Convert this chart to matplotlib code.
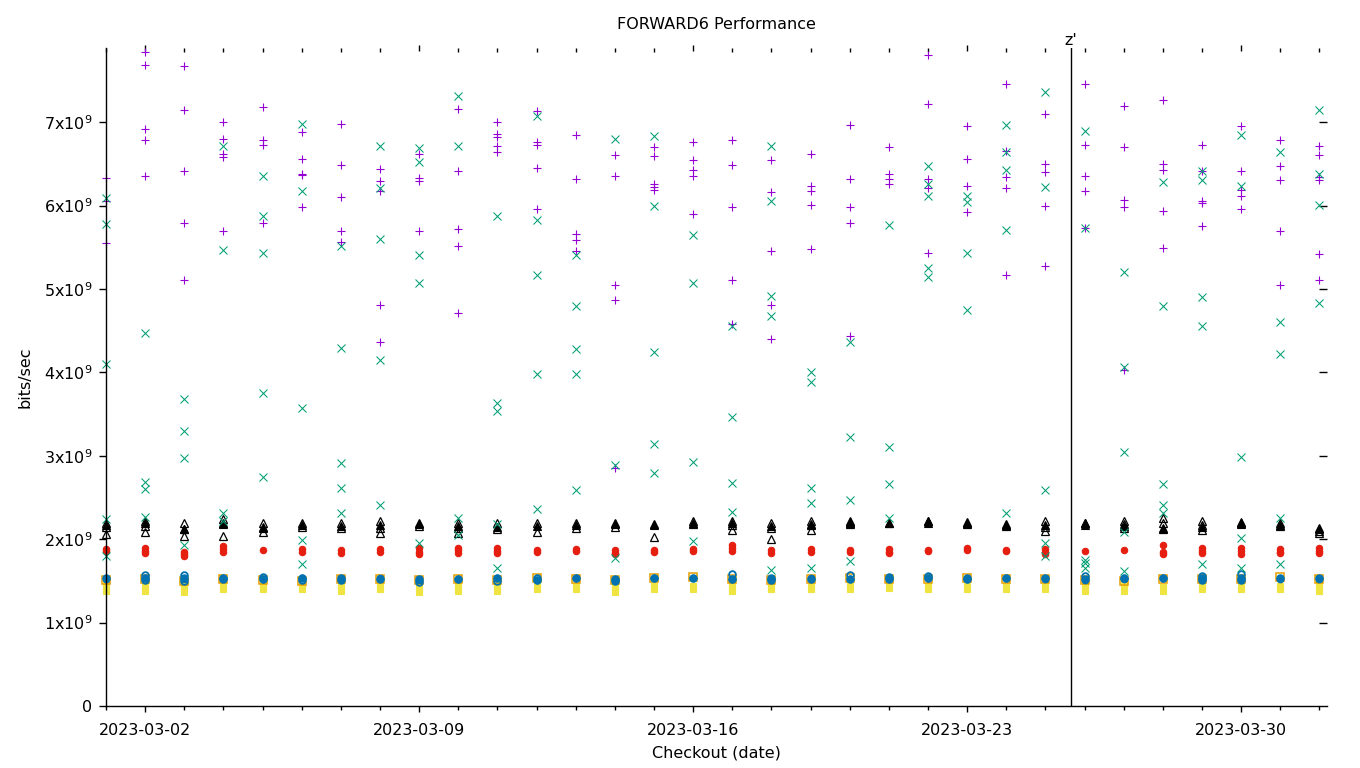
import numpy as np
import pandas as pd
import matplotlib
matplotlib.use("Agg")
import matplotlib.pyplot as plt
import matplotlib.dates as mdates
from matplotlib.ticker import FixedLocator, FuncFormatter

plt.rcParams["font.family"] = ["DejaVu Sans"]
FS = 11.5

# one column of points per checkout day
days = pd.date_range("2023-03-01", "2023-04-01", freq="D")
marker_date = pd.Timestamp("2023-03-25 15:40")
marker_label = "z'"

# values in units of 1e9 bits/sec, one list per day
purple_plus = [
    [6.33, 6.06, 5.55],
    [7.84, 7.69, 6.92, 6.79, 6.35],
    [7.68, 7.15, 6.42, 5.79, 5.11],
    [7.00, 6.80, 6.62, 6.58, 5.70],
    [7.18, 6.79, 6.73, 5.79],
    [6.88, 6.56, 6.38, 6.37, 5.98],
    [6.98, 6.49, 6.10, 5.69, 5.56],
    [6.44, 6.30, 6.17, 4.81, 4.36],
    [6.62, 6.33, 6.30, 5.69],
    [7.16, 6.41, 5.72, 5.51, 4.71],
    [7.00, 6.86, 6.82, 6.71, 6.64],
    [7.14, 6.76, 6.73, 6.45, 5.96],
    [6.85, 6.32, 5.66, 5.59, 5.46],
    [6.61, 6.35, 5.05, 4.87, 2.85],
    [6.70, 6.59, 6.26, 6.22, 6.19],
    [6.76, 6.55, 6.43, 6.35, 5.90],
    [6.79, 6.49, 5.98, 5.11, 4.58],
    [6.55, 6.16, 5.46, 4.81, 4.40],
    [6.62, 6.24, 6.18, 6.01, 5.48],
    [6.97, 6.32, 5.98, 5.79, 4.44],
    [6.70, 6.38, 6.32, 6.26],
    [7.81, 7.22, 6.32, 6.21, 5.43],
    [6.95, 6.56, 6.24, 5.92],
    [7.46, 6.66, 6.34, 6.21, 5.17],
    [7.10, 6.50, 6.40, 5.99, 5.28],
    [7.46, 6.73, 6.36, 6.17, 5.73],
    [7.19, 6.70, 6.07, 5.98, 4.03],
    [7.27, 6.50, 6.43, 5.93, 5.49],
    [6.73, 6.41, 6.05, 6.03, 5.75],
    [6.96, 6.42, 6.19, 6.12, 5.96],
    [6.79, 6.48, 6.31, 5.70, 5.05],
    [6.71, 6.61, 6.34, 6.31, 5.42, 5.11],
]

green_x = [
    [6.09, 5.78, 4.10, 2.24, 1.80],
    [4.47, 2.69, 2.60, 2.27],
    [3.68, 3.30, 2.97, 1.93],
    [6.72, 5.47, 2.32, 2.22],
    [6.35, 5.88, 5.43, 3.75, 2.74],
    [6.98, 6.18, 3.57, 1.99, 1.70],
    [5.51, 4.29, 2.91, 2.62, 2.32],
    [6.71, 6.21, 5.60, 4.15, 2.41],
    [6.69, 6.52, 5.41, 5.07, 1.95],
    [7.32, 6.72, 2.25, 2.05],
    [5.88, 3.63, 3.54, 2.18, 1.65],
    [7.07, 5.83, 5.17, 3.98, 2.36],
    [5.41, 4.80, 4.28, 3.98, 2.59],
    [6.80, 2.89, 1.78],
    [6.83, 5.99, 4.25, 3.14, 2.79],
    [5.65, 5.07, 2.92, 1.98],
    [4.56, 3.46, 2.67, 2.33],
    [6.71, 6.06, 4.92, 4.68, 1.63],
    [4.01, 3.89, 2.61, 2.43, 1.65],
    [4.37, 3.23, 2.47, 1.74],
    [5.77, 3.10, 2.66, 2.26],
    [6.47, 6.26, 6.11, 5.25, 5.14],
    [6.12, 6.04, 5.43, 4.75],
    [6.97, 6.64, 6.43, 5.71, 2.32],
    [7.36, 6.22, 2.59, 1.96, 1.80],
    [6.90, 5.73, 1.75, 1.71, 1.66],
    [5.21, 4.06, 3.05, 2.09, 1.62],
    [6.28, 4.80, 2.66, 2.41, 2.31],
    [6.42, 6.31, 4.91, 4.56, 1.70],
    [6.85, 6.23, 2.98, 2.02, 1.66],
    [6.64, 4.60, 4.22, 2.25, 1.70],
    [7.15, 6.38, 6.01, 4.83],
]

tri_open = [
    [2.20, 2.15, 2.06], [2.22, 2.16, 2.09], [2.20, 2.12, 2.04], [2.24, 2.19, 2.04],
    [2.20, 2.14, 2.09], [2.19, 2.15], [2.19, 2.14], [2.22, 2.14, 2.07],
    [2.20, 2.16], [2.20, 2.14, 2.08], [2.19, 2.12], [2.20, 2.09],
    [2.20, 2.13], [2.20, 2.15], [2.18, 2.03], [2.22, 2.18],
    [2.22, 2.17, 2.11], [2.19, 2.14, 2.00], [2.22, 2.17, 2.11], [2.22, 2.18],
    [2.20], [2.22], [2.21, 2.18], [2.18, 2.16],
    [2.22, 2.15, 2.10], [2.19], [2.22, 2.18, 2.14], [2.26, 2.20, 2.12],
    [2.22, 2.17, 2.11], [2.20], [2.20, 2.16], [2.14, 2.10, 2.08],
]

tri_filled = [
    [2.17], [2.19], [2.12], [2.18], [2.15], [2.17], [2.16], [2.17],
    [2.18], [2.16], [2.15], [2.16], [2.17], [2.18], [2.17], [2.20],
    [2.20], [2.16], [2.18], [2.21, 2.19], [2.20], [2.22, 2.20], [2.19], [2.17],
    [2.17], [2.20, 2.17], [2.16], [2.14], [2.15], [2.21, 2.18], [2.17], [2.12],
]

red_dots = [
    [1.88, 1.86], [1.90, 1.86, 1.83], [1.85, 1.82, 1.80], [1.92, 1.88, 1.85],
    [1.87], [1.88, 1.85], [1.87, 1.84], [1.88, 1.85],
    [1.89, 1.85, 1.82], [1.90, 1.87, 1.84], [1.89, 1.86, 1.83], [1.87, 1.85],
    [1.88, 1.86], [1.87, 1.84, 1.82], [1.87, 1.85], [1.88, 1.86],
    [1.93, 1.89, 1.86], [1.87, 1.84], [1.88, 1.85], [1.87, 1.85],
    [1.88, 1.85, 1.83], [1.87, 1.86], [1.89, 1.87], [1.87, 1.86],
    [1.88, 1.85, 1.82], [1.86], [1.87], [1.93, 1.85, 1.82],
    [1.89, 1.86, 1.84], [1.90, 1.86, 1.82], [1.88, 1.85, 1.83], [1.89, 1.86, 1.83],
]

blue_open = [
    [1.53], [1.57, 1.53, 1.51], [1.57, 1.53, 1.50], [1.54, 1.52],
    [1.55, 1.52], [1.53, 1.51], [1.53, 1.51], [1.52],
    [1.52, 1.49], [1.52], [1.54, 1.50], [1.53, 1.51],
    [1.53], [1.52, 1.50], [1.54], [1.53],
    [1.58, 1.52], [1.53, 1.51], [1.52], [1.57, 1.52],
    [1.55, 1.52], [1.56, 1.53], [1.54, 1.52], [1.53],
    [1.53], [1.56, 1.52], [1.53], [1.53],
    [1.56, 1.53, 1.51], [1.58, 1.53, 1.51], [1.53], [1.53],
]

blue_filled = [
    [1.52], [1.54], [1.52], [1.53], [1.52], [1.53], [1.52], [1.53],
    [1.51], [1.52], [1.53], [1.51], [1.53], [1.51], [1.53], [1.53],
    [1.52], [1.52], [1.53], [1.52], [1.53], [1.53], [1.52], [1.53],
    [1.52], [1.51], [1.54, 1.52], [1.54], [1.52], [1.52], [1.52], [1.52],
]

orange_sq = [
    [1.51], [1.52], [1.50], [1.52], [1.51], [1.50], [1.52], [1.52],
    [1.51], [1.52], [1.51], [1.54], [1.52], [1.51], [1.54], [1.55],
    [1.52], [1.51], [1.52], [1.53], [1.52], [1.52], [1.53], [1.52],
    [1.52], [1.51], [1.50], [1.52], [1.52], [1.52], [1.55], [1.52],
]

yellow_sq = [
    [1.38, 1.42, 1.46], [1.38, 1.42, 1.46], [1.37, 1.41, 1.45], [1.40, 1.44],
    [1.40, 1.44], [1.40, 1.44], [1.38, 1.42, 1.46], [1.40, 1.44],
    [1.37, 1.41, 1.45], [1.38, 1.42, 1.46], [1.38, 1.42, 1.46], [1.40, 1.44],
    [1.40, 1.44], [1.37, 1.41, 1.45], [1.40, 1.44], [1.40, 1.44],
    [1.38, 1.42, 1.46], [1.40, 1.44], [1.40, 1.44], [1.40, 1.44],
    [1.42, 1.46], [1.40, 1.44], [1.40, 1.44], [1.40, 1.44],
    [1.40, 1.44], [1.38, 1.42, 1.46], [1.38, 1.42, 1.46], [1.38, 1.43],
    [1.40, 1.44], [1.40, 1.44], [1.40, 1.44], [1.38, 1.42, 1.46],
]

yticks_val = [0, 1, 2, 3, 4, 5, 6, 7]
major_dates = pd.date_range("2023-03-02", "2023-03-30", freq="7D")


def flat(series):
    xs, ys = [], []
    for d, vals in zip(days, series):
        for v in vals:
            xs.append(mdates.date2num(d.to_pydatetime()))
            ys.append(v * 1e9)
    return xs, ys


fig = plt.figure(figsize=(13.6, 7.68), dpi=100)
ax = fig.add_axes([106 / 1360, 62 / 768, (1327 - 106) / 1360, (706 - 48) / 768])

styles = [
    (yellow_sq, dict(marker="s", ms=5.0, mfc="#f0e442", mec="#f0e442", mew=0.8)),
    (orange_sq, dict(marker="s", ms=5.5, mfc="none", mec="#e69f00", mew=1.1)),
    (blue_open, dict(marker="o", ms=4.8, mfc="none", mec="#0072b2", mew=1.3)),
    (blue_filled, dict(marker="o", ms=4.8, mfc="#0072b2", mec="#0072b2", mew=0.8)),
    (red_dots, dict(marker="o", ms=4.6, mfc="#e51e10", mec="#e51e10", mew=0.8)),
    (tri_open, dict(marker="^", ms=6.0, mfc="none", mec="black", mew=0.9)),
    (tri_filled, dict(marker="^", ms=6.0, mfc="black", mec="black", mew=0.8)),
    (purple_plus, dict(marker="+", ms=6.0, mec="#9400d3", mew=0.8)),
    (green_x, dict(marker="x", ms=5.6, mec="#009e73", mew=0.75)),
]
for series, st in styles:
    xs, ys = flat(series)
    ax.plot(xs, ys, ls="none", clip_on=False, **st)

x0 = mdates.date2num(days[0].to_pydatetime())
x1 = x0 + (1327 - 106) / 39.14
ax.set_xlim(x0, x1)
ax.set_ylim(0, 7.89e9)

mline = mdates.date2num(marker_date.to_pydatetime())
ax.axvline(mline, color="black", lw=1.0)
ax.text(mline, 7.89e9, marker_label, ha="center", va="bottom", fontsize=FS)

ax.spines["top"].set_visible(False)
ax.spines["right"].set_visible(False)
ax.spines["left"].set_linewidth(1.0)
ax.spines["bottom"].set_linewidth(1.0)

maj = [mdates.date2num(d.to_pydatetime()) for d in major_dates]
mnr = [mdates.date2num(d.to_pydatetime()) for d in days]
ax.xaxis.set_major_locator(FixedLocator(maj))
ax.xaxis.set_minor_locator(FixedLocator(mnr))
ax.xaxis.set_major_formatter(FuncFormatter(lambda v, p: mdates.num2date(v).strftime("%Y-%m-%d")))

ax.yaxis.set_major_locator(FixedLocator([v * 1e9 for v in yticks_val]))
ax.yaxis.set_major_formatter(FuncFormatter(
    lambda v, p: "0" if v == 0 else "%dx10$^{9}$" % round(v / 1e9)))

ax.tick_params(axis="both", which="major", direction="out", length=5, width=1.0,
               labelsize=FS, color="black")
ax.tick_params(axis="x", which="major", length=4, pad=8)
ax.tick_params(axis="x", which="minor", direction="out", length=3, width=1.0)
ax.tick_params(axis="y", which="major", pad=5)

# mirrored ticks on top and right (no border line)
top = ax.secondary_xaxis("top")
top.xaxis.set_major_locator(FixedLocator(maj))
top.xaxis.set_minor_locator(FixedLocator(mnr))
top.tick_params(which="major", direction="inout", length=5, width=1.0, labeltop=False)
top.tick_params(which="minor", direction="in", length=3, width=1.0)
top.spines["top"].set_visible(False)

right = ax.secondary_yaxis("right")
right.yaxis.set_major_locator(FixedLocator([v * 1e9 for v in yticks_val[1:]]))
right.tick_params(direction="in", length=6, width=1.0, labelright=False)
right.spines["right"].set_visible(False)

ax.set_title("FORWARD6 Performance", fontsize=FS, pad=14)
ax.set_xlabel("Checkout (date)", fontsize=FS, labelpad=6)
ax.set_ylabel("bits/sec", fontsize=FS, labelpad=8)

fig.savefig("out.png", dpi=100)
